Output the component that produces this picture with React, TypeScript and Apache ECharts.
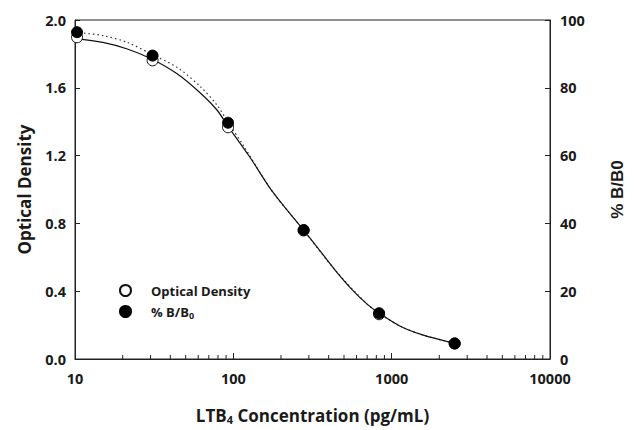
import React, { useEffect, useRef } from "react";
import * as echarts from "echarts";

// Standards (pg/mL)
const concentrations = [10.3, 30.9, 92.6, 278, 833, 2500];
// Optical density of standards (left axis)
const opticalDensity = [1.898, 1.762, 1.367, 0.758, 0.264, 0.091];
// % B/B0 of standards (right axis)
const percentBB0 = [96.4, 89.5, 69.7, 38.05, 13.5, 4.6];

// fitted OD curve (solid)
const odCurveX = [10, 15, 21.4, 30.5, 44.6, 62.1, 78.8, 93.1, 126.7, 176.8, 277.3, 343.2, 435.3, 552, 699.6, 834.6, 1125, 1568, 2483];
const odCurve = [1.892, 1.868, 1.829, 1.77, 1.68, 1.568, 1.469, 1.37, 1.193, 0.987, 0.761, 0.653, 0.529, 0.417, 0.324, 0.27, 0.195, 0.142, 0.093];
// fitted % B/B0 curve (dotted)
const pctCurveX = [10, 15, 21.4, 30.5, 44.6, 62.1, 78.8, 93.1, 115.3, 176.8, 277.3, 435.3, 699.6, 834.6, 1125, 1568, 2483];
const pctCurve = [96.4, 95.4, 93.4, 89.9, 85.9, 80.3, 74.9, 69.7, 63.1, 49.35, 38.05, 26.45, 16.2, 13.5, 9.75, 7.1, 4.65];

const minorTicks = [20, 30, 40, 50, 60, 70, 80, 90, 200, 300, 400, 500, 600, 700, 800, 900, 2000, 3000, 4000, 5000, 6000, 7000, 8000, 9000];

const INK = "#1a1a1a";
const FONT = "'Open Sans', 'Noto Sans', sans-serif";

export default function App() {
  const ref = useRef<HTMLDivElement>(null);
  useEffect(() => {
    if (!ref.current) return;
    const chart = echarts.init(ref.current, null, { renderer: "svg" });
    const pair = (xs: number[], ys: number[]) => xs.map((x, i) => [x, ys[i]]);
    chart.setOption({
      animation: false,
      backgroundColor: "#fff",
      grid: { left: 75, right: 74, top: 20, bottom: 71, show: true, borderColor: "#222", borderWidth: 1 },
      legend: {
        show: true,
        orient: "vertical",
        left: 114,
        top: 279,
        itemWidth: 11,
        itemHeight: 11,
        itemGap: 8,
        data: ["Optical Density", "% B/B0"],
        formatter: (name: string) => (name === "% B/B0" ? "% B/B{sub|0}" : name),
        textStyle: {
          fontFamily: FONT,
          fontWeight: 700,
          fontSize: 13,
          color: INK,
          padding: [0, 0, 0, 15],
          rich: {
            sub: { fontFamily: FONT, fontWeight: 700, fontSize: 9, color: INK, padding: [7, 0, 0, 0] },
          },
        },
      },
      xAxis: [
        {
          type: "log",
          logBase: 10,
          min: 10,
          max: 10000,
          name: "LTB{sub|4} Concentration (pg/mL)",
          nameLocation: "middle",
          nameGap: 46,
          nameTextStyle: {
            fontFamily: FONT,
            fontWeight: 700,
            fontSize: 17,
            color: INK,
            rich: {
              sub: { fontFamily: FONT, fontWeight: 700, fontSize: 11, color: INK, padding: [9, 0, 0, 0] },
            },
          },
          axisLine: { show: true, lineStyle: { color: "#222", width: 1 } },
          axisTick: { show: true, inside: true, length: 6, lineStyle: { color: "#222" } },
          axisLabel: {
            fontFamily: FONT,
            fontWeight: 700,
            fontSize: 14.5,
            color: INK,
            margin: 12,
            formatter: (v: number) => String(Math.round(v)),
          },
          splitLine: { show: false },
          minorTick: { show: false },
        },
      ],
      yAxis: [
        {
          type: "value",
          min: 0,
          max: 2,
          interval: 0.4,
          name: "Optical Density",
          nameLocation: "middle",
          nameGap: 42,
          nameTextStyle: { fontFamily: FONT, fontWeight: 700, fontSize: 17, color: INK },
          axisLine: { show: true, lineStyle: { color: "#222", width: 1 } },
          axisTick: { show: true, inside: true, length: 5, lineStyle: { color: "#222" } },
          axisLabel: {
            fontFamily: FONT,
            fontWeight: 700,
            fontSize: 14.5,
            color: INK,
            margin: 9,
            formatter: (v: number) => v.toFixed(1),
          },
          splitLine: { show: false },
        },
        {
          type: "value",
          min: 0,
          max: 100,
          interval: 20,
          position: "right",
          name: "% B/B0",
          nameLocation: "middle",
          nameRotate: 90,
          nameGap: 59,
          nameTextStyle: { fontFamily: "'Liberation Sans', Arial, sans-serif", fontWeight: 700, fontSize: 17, color: INK },
          axisLine: { show: true, lineStyle: { color: "#222", width: 1 } },
          axisTick: { show: true, inside: true, length: 5, lineStyle: { color: "#222" } },
          axisLabel: { fontFamily: FONT, fontWeight: 700, fontSize: 14.5, color: INK, margin: 10 },
          splitLine: { show: false },
        },
      ],
      series: [
        {
          type: "scatter",
          xAxisIndex: 0,
          yAxisIndex: 0,
          data: minorTicks.map((v) => [v, 0]),
          symbol: "rect",
          symbolSize: [1, 4],
          symbolOffset: [0, -2],
          itemStyle: { color: "#222", opacity: 1 },
          silent: true,
          clip: false,
          z: 1,
        },
        {
          type: "line",
          xAxisIndex: 0,
          yAxisIndex: 1,
          data: pair(pctCurveX, pctCurve),
          smooth: 0.3,
          showSymbol: false,
          symbol: "none",
          silent: true,
          lineStyle: { color: "#333", width: 1.2, type: [1.5, 3] },
          z: 2,
        },
        {
          type: "line",
          xAxisIndex: 0,
          yAxisIndex: 0,
          data: pair(odCurveX, odCurve),
          smooth: 0.3,
          showSymbol: false,
          symbol: "none",
          silent: true,
          lineStyle: { color: "#111", width: 1.2, type: "solid" },
          z: 3,
        },
        {
          name: "Optical Density",
          type: "scatter",
          xAxisIndex: 0,
          yAxisIndex: 0,
          data: pair(concentrations, opticalDensity),
          symbol: "circle",
          symbolSize: 11,
          itemStyle: { color: "#fff", borderColor: "#111", borderWidth: 1, opacity: 1 },
          z: 4,
        },
        {
          name: "% B/B0",
          type: "scatter",
          xAxisIndex: 0,
          yAxisIndex: 1,
          data: pair(concentrations, percentBB0),
          symbol: "circle",
          symbolSize: 11,
          itemStyle: { color: "#000", borderColor: "#000", borderWidth: 1, opacity: 1 },
          z: 5,
        },
      ],
    });
    return () => chart.dispose();
  }, []);
  return (
    <div
      ref={ref}
      style={{ position: "fixed", left: 0, top: 0, width: 634, height: 430, background: "#fff" }}
    />
  );
}
